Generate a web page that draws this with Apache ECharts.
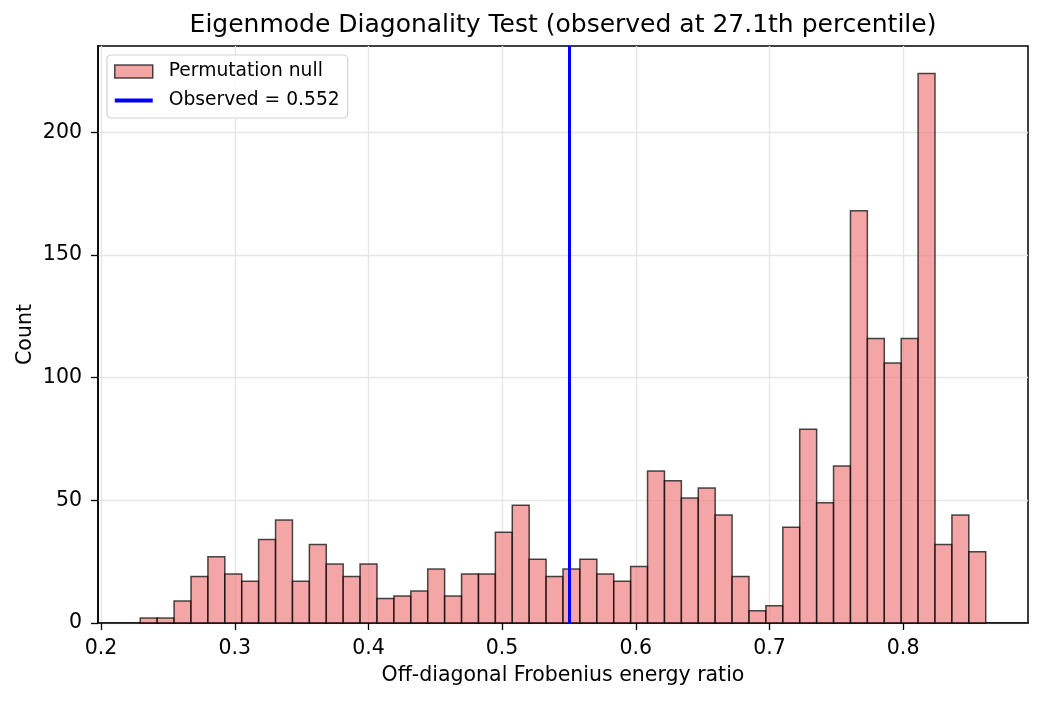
<!DOCTYPE html>
<html>
<head>
<meta charset="utf-8">
<script src="https://cdn.jsdelivr.net/npm/echarts@6/dist/echarts.min.js"></script>
<style>
html,body{margin:0;padding:0;background:#fff;}
#chart{width:1042px;height:701px;}
</style>
</head>
<body>
<div id="chart"></div>
<script>
// ---- data ----
const binRangeStart = 0.2293;
const binRangeEnd = 0.8618;
const counts = [2, 2, 9, 19, 27, 20, 17, 34, 42, 17,
                32, 24, 19, 24, 10, 11, 13, 22, 11, 20,
                20, 37, 48, 26, 19, 22, 26, 20, 17, 23,
                62, 58, 51, 55, 44, 19, 5, 7, 39, 79,
                49, 64, 168, 116, 106, 116, 224, 32, 44, 29];
const observedValue = 0.552;
const xTickValues = [0.2, 0.3, 0.4, 0.5, 0.6, 0.7, 0.8];
const yTickValues = [0, 50, 100, 150, 200];
const titleText = 'Eigenmode Diagonality Test (observed at 27.1th percentile)';
const xLabel = 'Off-diagonal Frobenius energy ratio';
const yLabel = 'Count';
const nullName = 'Permutation null';
const observedName = 'Observed = 0.552';

// ---- derived ----
const nBins = counts.length;
const binWidth = (binRangeEnd - binRangeStart) / nBins;
const histData = counts.map((c, i) => [binRangeStart + i * binWidth, binRangeStart + (i + 1) * binWidth, c]);
const xPad = (binRangeEnd - binRangeStart) * 0.05;
const yMax = Math.max(...counts) * 1.05;

const FONT = 'DejaVu Sans';
const barFill = 'rgba(240,128,128,0.7)';
const barEdge = 'rgba(0,0,0,0.7)';
const obsColor = '#0000ff';

const chart = echarts.init(document.getElementById('chart'), null, {renderer: 'canvas'});
chart.setOption({
  animation: false,
  backgroundColor: '#fff',
  textStyle: {fontFamily: FONT},
  title: {
    text: titleText,
    left: 558,
    top: 8,
    textAlign: 'center',
    textStyle: {fontFamily: FONT, fontSize: 25, fontWeight: 'normal', color: '#000'}
  },
  grid: {
    left: 98, right: 14, top: 46, bottom: 78,
    show: true, borderColor: '#000', borderWidth: 1.5, backgroundColor: 'transparent'
  },
  legend: {
    orient: 'vertical',
    left: 107, top: 55,
    padding: [7, 8, 8, 7],
    itemGap: 10,
    itemWidth: 38,
    itemHeight: 13,
    backgroundColor: 'rgba(255,255,255,0.8)',
    borderColor: '#d3d3d3',
    borderWidth: 1.2,
    borderRadius: 4,
    textStyle: {fontFamily: FONT, fontSize: 18.7, color: '#000', padding: [0, 0, 0, 11]},
    data: [
      {name: nullName, icon: 'rect', itemStyle: {color: barFill, borderColor: barEdge, borderWidth: 1.5}},
      {name: observedName, icon: 'path://M0,0L40,0L40,4L0,4Z', itemStyle: {color: obsColor, borderWidth: 0}}
    ]
  },
  xAxis: {
    type: 'value',
    min: binRangeStart - xPad,
    max: binRangeEnd + xPad,
    axisLine: {show: true, onZero: false, lineStyle: {color: '#000', width: 1.5}},
    axisTick: {show: true, length: 7, lineStyle: {color: '#000', width: 1.3}, customValues: xTickValues},
    axisLabel: {color: '#000', fontSize: 20.5, fontFamily: FONT, margin: 15, customValues: xTickValues,
                formatter: v => v.toFixed(1)},
    splitLine: {show: true, lineStyle: {color: '#e6e6e6', width: 1.4}},
    name: xLabel,
    nameLocation: 'middle',
    nameGap: 42,
    nameMoveOverlap: false,
    nameTextStyle: {color: '#000', fontSize: 20.5, fontFamily: FONT}
  },
  yAxis: {
    type: 'value',
    min: 0,
    max: yMax,
    axisLine: {show: true, lineStyle: {color: '#000', width: 1.5}},
    axisTick: {show: true, length: 7, lineStyle: {color: '#000', width: 1.3}, customValues: yTickValues},
    axisLabel: {color: '#000', fontSize: 20.5, fontFamily: FONT, margin: 16, customValues: yTickValues},
    splitLine: {show: true, lineStyle: {color: '#e6e6e6', width: 1.4}},
    name: yLabel,
    nameLocation: 'middle',
    nameGap: 62,
    nameMoveOverlap: false,
    nameTextStyle: {color: '#000', fontSize: 20.5, fontFamily: FONT}
  },
  series: [
    {
      name: nullName,
      type: 'custom',
      data: histData,
      encode: {x: [0, 1], y: 2},
      itemStyle: {color: barFill, borderColor: barEdge, borderWidth: 1.5},
      renderItem: function (params, api) {
        const p0 = api.coord([api.value(0), api.value(2)]);
        const p1 = api.coord([api.value(1), 0]);
        return {
          type: 'rect',
          shape: {x: p0[0], y: p0[1], width: p1[0] - p0[0], height: p1[1] - p0[1]},
          style: {fill: barFill, stroke: barEdge, lineWidth: 1.5}
        };
      },
      z: 3
    },
    {
      name: observedName,
      type: 'line',
      data: [],
      symbol: 'none',
      showSymbol: false,
      color: obsColor,
      lineStyle: {color: obsColor, width: 3},
      markLine: {
        silent: true,
        symbol: ['none', 'none'],
        label: {show: false},
        lineStyle: {color: obsColor, width: 3, type: 'solid'},
        data: [{xAxis: observedValue}]
      },
      z: 5
    }
  ]
});
</script>
</body>
</html>
